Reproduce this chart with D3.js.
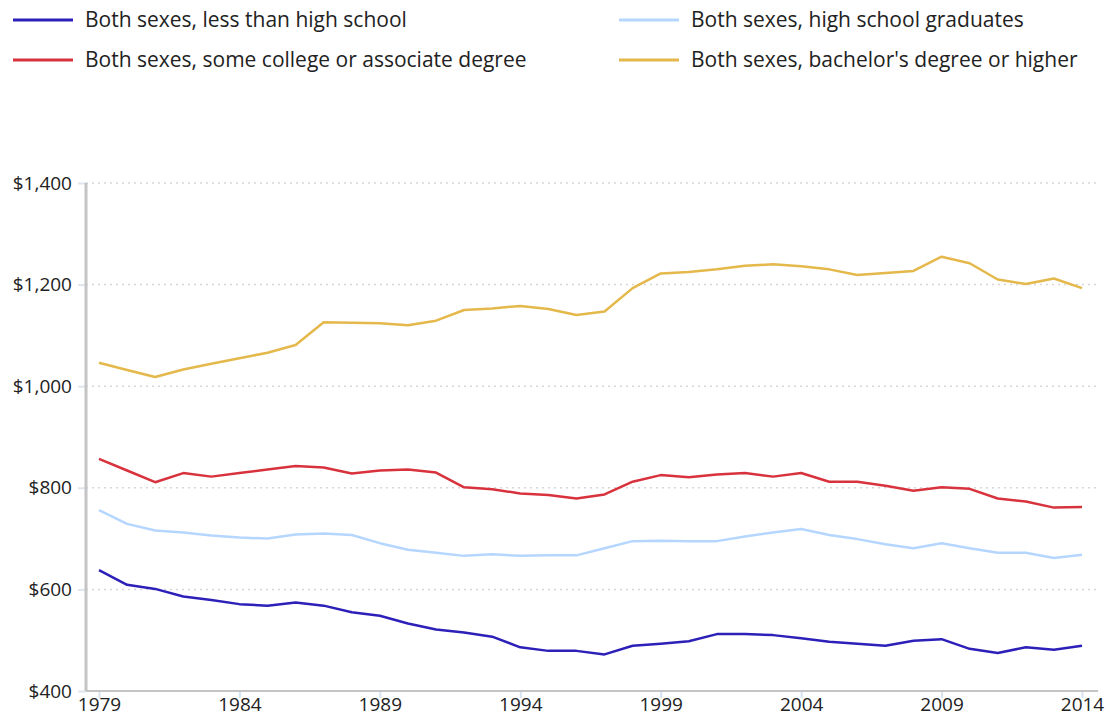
<!DOCTYPE html>
<html>
<head>
<meta charset="utf-8">
<script src="https://cdn.jsdelivr.net/npm/d3@7"></script>
<style>
	body { margin: 0; background: #fff; }
	svg text { font-family: "Open Sans", "Noto Sans", sans-serif; fill: #222; }
</style>
</head>
<body>
<div id="chart"></div>
<script>
// years on the x axis
const years = d3.range( 1979, 2015 );
const xTicks = [ 1979, 1984, 1989, 1994, 1999, 2004, 2009, 2014 ];
const yTicks = [ 400, 600, 800, 1000, 1200, 1400 ];

const seriesNames = [
	"Both sexes, less than high school",
	"Both sexes, high school graduates",
	"Both sexes, some college or associate degree",
	"Both sexes, bachelor's degree or higher"
];

const lessThanHS = [ 638, 609, 601, 586, 579, 571, 568, 574, 568, 555, 548, 533, 521, 515, 507, 486, 479, 479, 472, 489,
	493, 498, 512, 512, 510, 504, 497, 493, 489, 499, 502, 483, 475, 486, 481, 489 ];
const hsGrads = [ 756, 729, 716, 712, 706, 702, 700, 708, 710, 707, 691, 678, 672, 666, 669, 666, 667, 667, 681, 695,
	696, 695, 695, 704, 712, 719, 707, 699, 689, 681, 691, 681, 672, 672, 662, 668 ];
const someCollege = [ 857, 834, 811, 829, 822, 829, 836, 843, 840, 828, 834, 836, 830, 801, 797, 789, 786, 779, 787, 812,
	825, 821, 826, 829, 822, 829, 812, 812, 804, 794, 801, 798, 779, 773, 761, 762 ];
const bachelors = [ 1046, 1032, 1018, 1033, 1044, 1055, 1066, 1081, 1126, 1125, 1124, 1120, 1129, 1150, 1153, 1158, 1152, 1140, 1147, 1193,
	1222, 1225, 1230, 1237, 1240, 1236, 1230, 1219, 1223, 1227, 1255, 1242, 1210, 1201, 1212, 1193 ];

const colors = [ "#2c20b8", "#b5d6ff", "#d8323d", "#e4b84a" ];

let width = 1114,
	height = 717,
	svg = d3.select( "#chart" ).append( "svg" )
		.attr( "width", width )
		.attr( "height", height ),
	// 绘图区边界
	plot = { left: 86, right: 1098, top: 183, bottom: 691 };

let x = d3.scaleLinear().domain( [ 1979, 2014 ] ).range( [ 99, 1082 ] ),
	y = d3.scaleLinear().domain( [ 400, 1400 ] ).range( [ plot.bottom, plot.top ] );

// 网格线
svg.append( "g" )
	.selectAll( "line" )
	.data( yTicks.slice( 1 ) )
	.join( "line" )
	.attr( "x1", plot.left )
	.attr( "x2", plot.right )
	.attr( "y1", d => y( d ) )
	.attr( "y2", d => y( d ) )
	.attr( "stroke", "#d6d6d6" )
	.attr( "stroke-width", 1.5 )
	.attr( "stroke-dasharray", "2,4" );

// y axis
let yAxis = svg.append( "g" )
	.attr( "transform", `translate(${plot.left},0)` )
	.call( d3.axisLeft( y ).tickValues( yTicks ).tickSize( 8 ).tickPadding( 6 )
		.tickFormat( d => "$" + d3.format( "," )( d ) ) );
yAxis.select( ".domain" ).remove();
yAxis.selectAll( ".tick line" ).attr( "stroke", "#dfe6ee" ).attr( "stroke-width", 2 );
yAxis.selectAll( "text" ).attr( "font-size", "19px" );

// x axis
let xAxis = svg.append( "g" )
	.attr( "transform", `translate(0,${plot.bottom})` )
	.call( d3.axisBottom( x ).tickValues( xTicks ).tickSize( 7 ).tickPadding( 0 )
		.tickFormat( d3.format( "d" ) ) );
xAxis.select( ".domain" ).remove();
xAxis.selectAll( ".tick line" ).attr( "stroke", "#d5e3f3" ).attr( "stroke-width", 2 );
xAxis.selectAll( "text" ).attr( "font-size", "19px" );

// axis lines
svg.append( "line" )
	.attr( "x1", plot.left ).attr( "x2", plot.left )
	.attr( "y1", plot.top ).attr( "y2", plot.bottom )
	.attr( "stroke", "#c4c4c4" ).attr( "stroke-width", 3 );
svg.append( "line" )
	.attr( "x1", plot.left ).attr( "x2", plot.right )
	.attr( "y1", plot.bottom ).attr( "y2", plot.bottom )
	.attr( "stroke", "#c4c4c4" ).attr( "stroke-width", 2 );

// lines
let seriesData = [ lessThanHS, hsGrads, someCollege, bachelors ];
let line = d3.line()
	.x( ( d, i ) => x( years[ i ] ) )
	.y( d => y( d ) );

svg.append( "g" )
	.selectAll( "path" )
	.data( seriesData )
	.join( "path" )
	.attr( "d", d => line( d ) )
	.attr( "fill", "none" )
	.attr( "stroke", ( d, i ) => colors[ i ] )
	.attr( "stroke-width", 2.5 )
	.attr( "stroke-linejoin", "round" );

// legend: 左列 0,2 右列 1,3
let legendPos = [
	{ x: 13, y: 20 },
	{ x: 619, y: 20 },
	{ x: 13, y: 60 },
	{ x: 619, y: 60 }
];
let legend = svg.append( "g" )
	.selectAll( "g" )
	.data( seriesNames )
	.join( "g" )
	.attr( "transform", ( d, i ) => `translate(${legendPos[ i ].x},${legendPos[ i ].y})` );
legend.append( "line" )
	.attr( "x1", 0 ).attr( "x2", 60 )
	.attr( "stroke", ( d, i ) => colors[ i ] )
	.attr( "stroke-width", 3 );
legend.append( "text" )
	.attr( "x", 72 )
	.attr( "dy", "0.35em" )
	.attr( "font-size", "21px" )
	.text( d => d );
</script>
</body>
</html>
